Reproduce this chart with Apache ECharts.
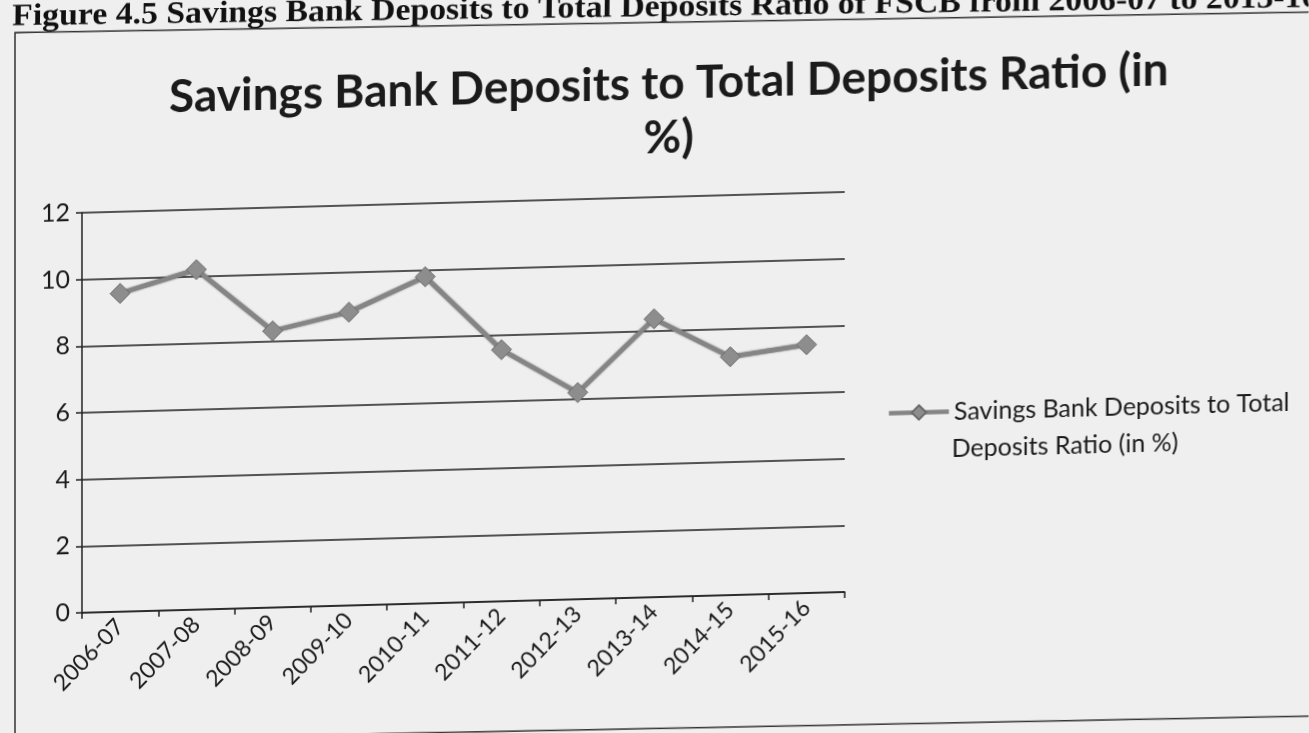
<!DOCTYPE html>
<html>
<head>
<meta charset="utf-8">
<script src="https://cdn.jsdelivr.net/npm/echarts@6/dist/echarts.min.js"></script>
<style>
  html, body { margin: 0; padding: 0; background: #efefef; overflow: hidden; width: 1309px; height: 733px; }
  #chart {
    width: 1309px; height: 790px;
    /* the printed page sits slightly askew */
    transform: skewY(-1.56deg);
    transform-origin: 0 0;
  }
</style>
</head>
<body>
<div id="chart"></div>
<script>
// Savings bank deposits as a share of total deposits, FSCB
const years = ['2006-07', '2007-08', '2008-09', '2009-10', '2010-11',
               '2011-12', '2012-13', '2013-14', '2014-15', '2015-16'];
const sbRatio = [9.55, 10.2, 8.3, 8.8, 9.8, 7.55, 6.2, 8.35, 7.15, 7.45];
const yTicks = { min: 0, max: 12, interval: 2 };

const seriesName = 'Savings Bank Deposits to Total Deposits Ratio (in %)';
const legendLine1 = 'Savings Bank Deposits to Total';
const legendLine2 = 'Deposits Ratio (in %)';
const captionText = 'Figure 4.5 Savings Bank Deposits to Total Deposits Ratio of FSCB from 2006-07 to 2015-16';
const chartTitle = 'Savings Bank Deposits to Total Deposits Ratio (in\n%)';

const FONT = 'Lato, "Open Sans", sans-serif';
const INK = '#1b1b1b';
const LINE_GREY = '#858585';

const chart = echarts.init(document.getElementById('chart'), null, { renderer: 'canvas' });

chart.setOption({
  backgroundColor: '#efefef',
  animation: false,
  title: {
    text: chartTitle,
    left: 664,
    top: 70,
    textAlign: 'center',
    textStyle: {
      fontFamily: FONT, fontWeight: 'bold', fontSize: 46,
      lineHeight: 54, color: INK
    }
  },
  graphic: [
    {
      type: 'text',
      left: 12, top: 2,
      rotation: -0.75 * Math.PI / 180,
      scaleX: 1.09,
      style: {
        text: captionText,
        fontFamily: '"Liberation Serif", "DejaVu Serif", serif',
        fontWeight: 'bold', fontSize: 31, fill: '#111'
      }
    },
    {
      // page frame around the chart
      type: 'polyline',
      shape: { points: [[1330, 48], [15, 33], [15, 741], [1330, 752]] },
      style: { stroke: '#333', lineWidth: 1.5, fill: null }
    },
    {
      // second line of the legend entry
      type: 'text',
      left: 952, top: 462,
      style: { text: legendLine2, fontFamily: FONT, fontSize: 25, fill: INK }
    }
  ],
  legend: {
    data: [seriesName],
    left: 882,
    top: 420,
    padding: 5,
    itemWidth: 60,
    itemHeight: 18,
    formatter: function () { return legendLine1; },
    lineStyle: { color: LINE_GREY, width: 4.5 },
    textStyle: { fontFamily: FONT, fontSize: 25, color: INK }
  },
  grid: { left: 82, top: 215, width: 763, height: 400, containLabel: false },
  xAxis: {
    type: 'category',
    data: years,
    boundaryGap: true,
    axisLine: { show: true, lineStyle: { color: '#222', width: 1.5 } },
    axisTick: { show: true, inside: false, length: 6,
                lineStyle: { color: '#222', width: 1.5 } },
    axisLabel: { rotate: 45, margin: 11, fontFamily: FONT, fontSize: 23, color: INK, interval: 0 },
    splitLine: { show: false }
  },
  yAxis: {
    type: 'value',
    min: yTicks.min, max: yTicks.max, interval: yTicks.interval,
    axisLine: { show: true, lineStyle: { color: '#222', width: 1.5 } },
    axisTick: { show: true, inside: false, length: 6, lineStyle: { color: '#222', width: 1.5 } },
    axisLabel: { margin: 12, fontFamily: FONT, fontSize: 25, color: INK },
    splitLine: { show: true, lineStyle: { color: '#1e1e1e', width: 1.6 } }
  },
  series: [{
    name: seriesName,
    type: 'line',
    data: sbRatio,
    symbol: 'diamond',
    symbolSize: 20,
    showAllSymbol: true,
    lineStyle: { color: LINE_GREY, width: 4.5, shadowColor: 'rgba(40,40,40,0.7)', shadowBlur: 2 },
    itemStyle: { color: '#8d8d8d', borderColor: '#6a6a6a', borderWidth: 1 }
  }]
});
</script>
</body>
</html>
